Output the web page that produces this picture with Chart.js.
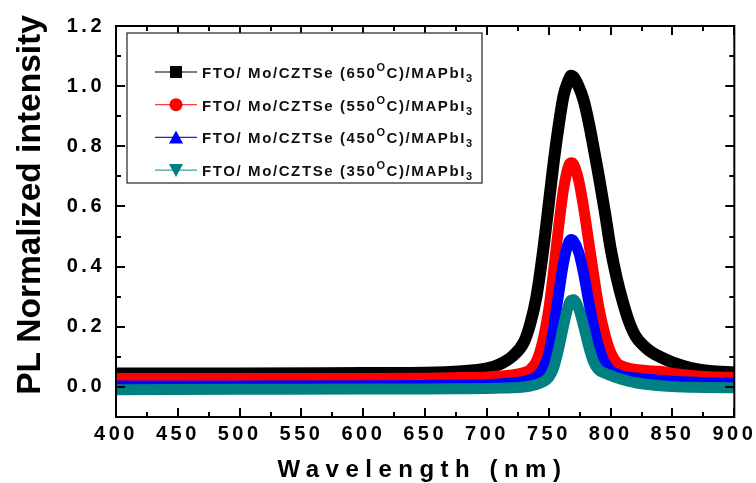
<!DOCTYPE html>
<html>
<head>
<meta charset="utf-8">
<script src="https://cdn.jsdelivr.net/npm/chart.js@4.4.1/dist/chart.umd.min.js"></script>
<style>
  html, body { margin: 0; padding: 0; background: #fff; }
  #wrap { width: 756px; height: 483px; }
</style>
</head>
<body>
<div id="wrap"><canvas id="pl"></canvas></div>
<script>
// PL spectra, normalized, for CZTSe annealed at different temperatures
const wavelength = [400, 500, 600, 650, 680, 700, 710, 720, 730, 735, 740, 745, 750, 754, 758, 762, 766, 768,
                    770, 774, 778, 782, 786, 790, 795, 800, 805, 810, 815, 820, 830, 840, 850, 865, 880, 900];

const pl650 = [0.045, 0.045, 0.046, 0.047, 0.052, 0.062, 0.075, 0.100, 0.150, 0.210, 0.300, 0.440, 0.610, 0.750, 0.870, 0.970, 1.020, 1.035,
               1.030, 1.000, 0.955, 0.885, 0.800, 0.710, 0.590, 0.460, 0.360, 0.280, 0.215, 0.170, 0.125, 0.100, 0.082, 0.063, 0.053, 0.048];
const pl550 = [0.028, 0.028, 0.028, 0.029, 0.031, 0.033, 0.036, 0.040, 0.048, 0.058, 0.085, 0.150, 0.260, 0.390, 0.535, 0.660, 0.735, 0.745,
               0.740, 0.690, 0.600, 0.490, 0.380, 0.275, 0.180, 0.115, 0.080, 0.068, 0.062, 0.058, 0.054, 0.052, 0.045, 0.038, 0.034, 0.032];
const pl450 = [0.003, 0.003, 0.004, 0.005, 0.006, 0.008, 0.010, 0.013, 0.018, 0.024, 0.034, 0.058, 0.110, 0.200, 0.310, 0.415, 0.480, 0.490,
               0.485, 0.450, 0.380, 0.290, 0.205, 0.138, 0.082, 0.054, 0.043, 0.036, 0.032, 0.030, 0.026, 0.022, 0.019, 0.016, 0.014, 0.012];
const pl350 = [-0.009, -0.008, -0.007, -0.007, -0.006, -0.005, -0.004, -0.003, 0.000, 0.003, 0.008, 0.016, 0.032, 0.065, 0.128, 0.205, 0.272, 0.288,
               0.290, 0.262, 0.205, 0.138, 0.085, 0.058, 0.046, 0.038, 0.030, 0.024, 0.018, 0.014, 0.008, 0.004, 0.001, -0.001, -0.002, -0.003];

const temps = ['650', '550', '450', '350'];
const seriesValues = [pl650, pl550, pl450, pl350];
const seriesColors = ['#000000', '#ff0000', '#0000ff', '#008080'];
const legendLineColors = ['#000000', '#ff3b3b', '#2020ff', '#3aa39d'];
const markerShapes = ['square', 'circle', 'triangle', 'triangleDown'];
const bandWidths = [12, 11, 11, 11];

const xTicks = [400, 450, 500, 550, 600, 650, 700, 750, 800, 850, 900];
const xMinorTicks = [425, 475, 525, 575, 625, 675, 725, 775, 825, 875];
const yTicks = [0.0, 0.2, 0.4, 0.6, 0.8, 1.0, 1.2];
const yMinorTicks = [0.1, 0.3, 0.5, 0.7, 0.9, 1.1];

const FONT = 'Arial, "Liberation Sans", Helvetica, sans-serif';
Chart.defaults.font.family = FONT;
Chart.defaults.color = '#000';

// wide letter spacing for the tick numbers
const spacing = {
  id: 'spacing',
  beforeDraw(chart) { chart.ctx.letterSpacing = '3.5px'; }
};

// closed frame with inward major/minor ticks on all four sides
const frame = {
  id: 'frame',
  afterDraw(chart) {
    const { ctx, chartArea: a, scales: { x, y } } = chart;
    ctx.save();
    ctx.strokeStyle = '#000';
    ctx.lineWidth = 2;
    ctx.lineCap = 'butt';
    ctx.beginPath();
    const vx = (vals, len) => vals.forEach(v => {
      const p = Math.round(x.getPixelForValue(v));
      ctx.moveTo(p, a.bottom); ctx.lineTo(p, a.bottom - len);
      ctx.moveTo(p, a.top); ctx.lineTo(p, a.top + len);
    });
    const vy = (vals, len) => vals.forEach(v => {
      const p = Math.round(y.getPixelForValue(v));
      ctx.moveTo(a.left, p); ctx.lineTo(a.left + len, p);
      ctx.moveTo(a.right, p); ctx.lineTo(a.right - len, p);
    });
    vx(xTicks, 9); vx(xMinorTicks, 5);
    vy(yTicks, 9); vy(yMinorTicks, 5);
    ctx.stroke();
    ctx.strokeRect(a.left, a.top, a.right - a.left, a.bottom - a.top);
    ctx.restore();
  }
};

// axis titles
const titles = {
  id: 'titles',
  afterDraw(chart) {
    const { ctx, chartArea: a } = chart;
    ctx.save();
    ctx.fillStyle = '#000';
    ctx.textBaseline = 'alphabetic';
    ctx.font = 'bold 24px ' + FONT;
    ctx.letterSpacing = '6.5px';
    const xt = 'Wavelength (nm)';
    const w = ctx.measureText(xt).width - 6.5;
    ctx.textAlign = 'left';
    ctx.fillText(xt, (a.left + a.right) / 2 - 6 - w / 2, 477);

    ctx.font = 'bold 33.5px ' + FONT;
    ctx.letterSpacing = '0px';
    ctx.translate(40, 205);
    ctx.rotate(-Math.PI / 2);
    ctx.textAlign = 'center';
    ctx.fillText('PL Normalized intensity', 0, 0);
    ctx.restore();
  }
};

function drawMarker(ctx, shape, cx, cy, color) {
  ctx.fillStyle = color;
  ctx.beginPath();
  if (shape === 'square') {
    ctx.rect(cx - 6, cy - 6, 12, 12);
  } else if (shape === 'circle') {
    ctx.arc(cx, cy, 6.5, 0, Math.PI * 2);
  } else if (shape === 'triangle') {
    ctx.moveTo(cx, cy - 7); ctx.lineTo(cx + 7, cy + 6); ctx.lineTo(cx - 7, cy + 6);
  } else {
    ctx.moveTo(cx, cy + 7); ctx.lineTo(cx + 7, cy - 6); ctx.lineTo(cx - 7, cy - 6);
  }
  ctx.closePath();
  ctx.fill();
}

// boxed legend with superscript degree "O" and subscript 3
const boxLegend = {
  id: 'boxLegend',
  afterDraw(chart) {
    const { ctx, chartArea: a } = chart;
    const left = a.left + 11, top = a.top + 7, width = 355, height = 150;
    ctx.save();
    ctx.fillStyle = '#fff';
    ctx.fillRect(left, top, width, height);
    ctx.strokeStyle = '#333';
    ctx.lineWidth = 1.3;
    ctx.strokeRect(left, top, width, height);

    temps.forEach((t, i) => {
      const cy = top + 39 + i * 32.7;
      ctx.strokeStyle = legendLineColors[i];
      ctx.lineWidth = 1.2;
      ctx.beginPath();
      ctx.moveTo(left + 28, cy); ctx.lineTo(left + 70, cy);
      ctx.stroke();
      drawMarker(ctx, markerShapes[i], left + 49, cy, seriesColors[i]);

      ctx.fillStyle = '#111';
      ctx.textAlign = 'left';
      ctx.textBaseline = 'alphabetic';
      ctx.letterSpacing = '1.6px';
      let tx = left + 75;
      const base = cy + 6;
      const part = (txt, size, dy) => {
        ctx.font = 'bold ' + size + 'px ' + FONT;
        ctx.fillText(txt, tx, base + dy);
        tx += ctx.measureText(txt).width;
      };
      part('FTO/ Mo/CZTSe (' + t, 15, 0);
      part('O', 11, -7);
      part('C)/MAPbI', 15, 0);
      part('3', 11, 4);
    });
    ctx.restore();
  }
};

new Chart(document.getElementById('pl'), {
  type: 'line',
  data: {
    datasets: temps.map((t, i) => ({
      label: 'FTO/ Mo/CZTSe (' + t + '°C)/MAPbI3',
      data: wavelength.map((w, k) => ({ x: w, y: seriesValues[i][k] })),
      borderColor: seriesColors[i],
      backgroundColor: seriesColors[i],
      borderWidth: bandWidths[i],
      pointRadius: 0,
      cubicInterpolationMode: 'monotone',
      borderJoinStyle: 'round',
      clip: 0,
      order: 3 - i
    }))
  },
  options: {
    responsive: true,
    maintainAspectRatio: false,
    animation: false,
    events: [],
    layout: { padding: { top: 26, right: 21, bottom: 0, left: 0 } },
    plugins: { legend: { display: false }, tooltip: { enabled: false } },
    scales: {
      x: {
        type: 'linear', min: 400, max: 900,
        afterBuildTicks: s => { s.ticks = xTicks.map(v => ({ value: v })); },
        afterFit: s => { s.height = 66; },
        grid: { display: false, drawTicks: false },
        border: { display: false },
        ticks: { font: { size: 20, weight: 'bold' }, padding: 5, maxRotation: 0, autoSkip: false }
      },
      y: {
        type: 'linear', min: -0.1, max: 1.2,
        afterBuildTicks: s => { s.ticks = yTicks.map(v => ({ value: v })); },
        afterFit: s => { s.width = 116; },
        grid: { display: false, drawTicks: false },
        border: { display: false },
        ticks: { font: { size: 20, weight: 'bold' }, padding: 11, callback: v => Number(v).toFixed(1) }
      }
    }
  },
  plugins: [spacing, frame, titles, boxLegend]
});
</script>
</body>
</html>
